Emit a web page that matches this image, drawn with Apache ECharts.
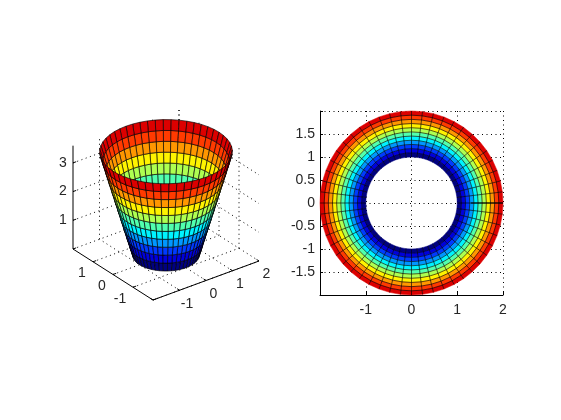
<!DOCTYPE html>
<html>
<head>
<meta charset="utf-8">
<style>html,body{margin:0;padding:0;background:#fff}#c{width:561px;height:420px}</style>
<script src="https://cdn.jsdelivr.net/npm/echarts@6/dist/echarts.min.js"></script>
</head>
<body>
<div id="c"></div>
<script>
// ---- values ----
const ringRadii = [1, 1.091, 1.182, 1.273, 1.364, 1.455, 1.545, 1.636, 1.727, 1.818, 1.909, 2];
const ringHeights = [0, 0.327, 0.655, 0.982, 1.309, 1.636, 1.964, 2.291, 2.618, 2.945, 3.273, 3.6];
const thetaDegrees = [
  0, 6.92, 13.85, 20.77, 27.69, 34.62, 41.54, 48.46, 55.38, 62.31, 69.23, 76.15, 83.08,
  90, 96.92, 103.85, 110.77, 117.69, 124.62, 131.54, 138.46, 145.38, 152.31, 159.23, 166.15, 173.08,
  180, 186.92, 193.85, 200.77, 207.69, 214.62, 221.54, 228.46, 235.38, 242.31, 249.23, 256.15, 263.08,
  270, 276.92, 283.85, 290.77, 297.69, 304.62, 311.54, 318.46, 325.38, 332.31, 339.23, 346.15, 353.08, 360
];
const seamX = [1.3, 2];
const seamY = [0, 0];
const xTicks3d = [-2, -1, 0, 1, 2];
const yTicks3d = [-2, -1, 0, 1, 2];
const zTicks3d = [1, 2, 3];
const xLabels3d = [-1, 0, 1, 2];
const yLabels3d = [-1, 0, 1];
const zLabels3d = [1, 2, 3];

// ---- oblique view used by the left panel (view units per data unit) ----
const proj = (x, y, z) => [26.5 * x - 20 * y, 9.75 * x + 12.75 * y + 28.7 * z];
const nearness = (x, y, z) => -0.527 * x - 0.687 * y + 0.5 * z;
const zTop = ringHeights[ringHeights.length - 1];

function jet(t) {
  const c = v => Math.round(255 * Math.max(0, Math.min(1, v)));
  const r = 1.5 - Math.abs(4 * t - 3), g = 1.5 - Math.abs(4 * t - 2), b = 1.5 - Math.abs(4 * t - 1);
  return 'rgb(' + c(r) + ',' + c(g) + ',' + c(b) + ')';
}

const cells = [];
for (let i = 0; i < ringRadii.length - 1; i++) {
  for (let j = 0; j < thetaDegrees.length - 1; j++) {
    const a = thetaDegrees[j] * Math.PI / 180, b = thetaDegrees[j + 1] * Math.PI / 180;
    const r0 = ringRadii[i], r1 = ringRadii[i + 1], z0 = ringHeights[i], z1 = ringHeights[i + 1];
    const v = [
      [r0 * Math.cos(a), r0 * Math.sin(a), z0],
      [r0 * Math.cos(b), r0 * Math.sin(b), z0],
      [r1 * Math.cos(b), r1 * Math.sin(b), z1],
      [r1 * Math.cos(a), r1 * Math.sin(a), z1]
    ];
    const mid = [0, 1, 2].map(k => (v[0][k] + v[1][k] + v[2][k] + v[3][k]) / 4);
    cells.push({ v, mid, ring: i, color: jet(z0 / zTop), depth: nearness(mid[0], mid[1], mid[2]) });
  }
}
const cells3d = cells.slice().sort((p, q) => p.depth - q.depth);

// dotted wall and floor lines
const gridSegs = [];
xTicks3d.forEach(x => {
  if (x > -2) gridSegs.push([[x, -2, 0], [x, 2, 0]]);
  if (x > -2) gridSegs.push([[x, 2, 0], [x, 2, zTop]]);
});
yTicks3d.forEach(y => {
  if (y < 2) gridSegs.push([[-2, y, 0], [2, y, 0]]);
  if (y > -2) gridSegs.push([[2, y, 0], [2, y, zTop]]);
});
gridSegs.push([[-2, 2, 0], [2, 2, 0]]);
zTicks3d.forEach(z => {
  gridSegs.push([[-2, 2, z], [2, 2, z]]);
  gridSegs.push([[2, 2, z], [2, -2, z]]);
});

// solid axes with their short tick marks
const axisSegs = [
  [[-2, 2, zTop], [-2, 2, 0]],
  [[-2, 2, 0], [-2, -2, 0]],
  [[-2, -2, 0], [2, -2, 0]]
];
xTicks3d.forEach(x => axisSegs.push([[x, -2, 0], [x, -1.88, 0]]));
yTicks3d.forEach(y => axisSegs.push([[-2, y, 0], [-1.88, y, 0]]));
zTicks3d.forEach(z => axisSegs.push([[-2, 2, z], [-1.88, 2, z]]));

const labels3d = [];
xLabels3d.forEach(x => labels3d.push({ p: [x, -2, 0], t: x, dx: 7.5, dy: 13.5 }));
yLabels3d.forEach(y => labels3d.push({ p: [-2, y, 0], t: y, dx: y === -1 ? -13 : -11, dy: 11.5 }));
zLabels3d.forEach(z => labels3d.push({ p: [-2, 2, z], t: z, dx: -10, dy: 0 }));

const FONT = '14px "Liberation Sans", Arial, sans-serif';
const INK = '#262626';
const EDGE = 'rgba(0,0,0,0.8)';

function segSeries(segs, style) {
  return {
    type: 'custom', xAxisIndex: 0, yAxisIndex: 0, silent: true, clip: false, z: style.z,
    data: segs.map(s => proj(...s[0])), encode: { x: 0, y: 1 },
    renderItem(params, api) {
      const s = segs[params.dataIndex];
      const a = api.coord(proj(...s[0])), b = api.coord(proj(...s[1]));
      return { type: 'line', shape: { x1: a[0], y1: a[1], x2: b[0], y2: b[1] },
        style: { stroke: style.stroke, lineWidth: style.lineWidth, lineDash: style.dash || null } };
    }
  };
}

const chart = echarts.init(document.getElementById('c'), null, { renderer: 'canvas' });
chart.setOption({
  animation: false,
  backgroundColor: '#fff',
  grid: [
    { left: 56, top: 100, width: 220, height: 210 },
    { left: 320, top: 111, width: 183, height: 184 }
  ],
  xAxis: [
    { gridIndex: 0, type: 'value', min: -110, max: 110, show: false },
    { gridIndex: 1, type: 'value', min: -2, max: 2, interval: 1, z: 1,
      axisLine: { show: true, onZero: false, lineStyle: { color: '#000', width: 1 } },
      axisTick: { show: true, inside: true, length: 3, lineStyle: { color: '#000' } },
      axisLabel: { color: INK, fontSize: 14, fontFamily: '"Liberation Sans", Arial, sans-serif', margin: 8,
        formatter: v => v === -2 ? '' : String(v) },
      splitLine: { show: true, lineStyle: { color: '#000', width: 1, type: [1, 3.5] } } }
  ],
  yAxis: [
    { gridIndex: 0, type: 'value', min: -55, max: 155, show: false },
    { gridIndex: 1, type: 'value', min: -2, max: 2, interval: 0.5, z: 1,
      axisLine: { show: true, onZero: false, lineStyle: { color: '#000', width: 1 } },
      axisTick: { show: true, inside: true, length: 3, lineStyle: { color: '#000' } },
      axisLabel: { color: INK, fontSize: 14, fontFamily: '"Liberation Sans", Arial, sans-serif', margin: 5,
        padding: [3, 0, 0, 0], formatter: v => Math.abs(v) === 2 ? '' : String(v) },
      splitLine: { show: true, lineStyle: { color: '#000', width: 1, type: [1, 3.5] } } }
  ],
  series: [
    segSeries(gridSegs, { stroke: '#000', lineWidth: 1, dash: [1, 3.5], z: 1 }),
    segSeries(axisSegs, { stroke: '#000', lineWidth: 1, z: 2 }),
    {
      type: 'custom', xAxisIndex: 0, yAxisIndex: 0, silent: true, clip: false, z: 3, progressive: 0,
      data: cells3d.map(c => proj(...c.mid)), encode: { x: 0, y: 1 },
      renderItem(params, api) {
        const c = cells3d[params.dataIndex];
        return { type: 'polygon', shape: { points: c.v.map(p => api.coord(proj(...p))) },
          style: { fill: c.color, stroke: EDGE, lineWidth: 0.8 } };
      }
    },
    {
      // right panel: cell fills
      type: 'custom', xAxisIndex: 1, yAxisIndex: 1, silent: true, clip: false, z: 3, progressive: 0,
      data: cells.map(c => [c.mid[0], c.mid[1]]), encode: { x: 0, y: 1 },
      renderItem(params, api) {
        const c = cells[params.dataIndex];
        return { type: 'polygon', shape: { points: c.v.map(p => api.coord([p[0], p[1]])) },
          style: { fill: c.color, stroke: c.color, lineWidth: 0.5 } };
      }
    },
    {
      // right panel: cell edges, leaving the inner and outer rims unlined
      type: 'custom', xAxisIndex: 1, yAxisIndex: 1, silent: true, clip: false, z: 4, progressive: 0,
      data: cells.map(c => [c.mid[0], c.mid[1]]), encode: { x: 0, y: 1 },
      renderItem(params, api) {
        const c = cells[params.dataIndex];
        const pts = c.v.map(p => api.coord([p[0], p[1]]));
        const points = c.ring === 0 ? [pts[0], pts[3]] : [pts[1], pts[0], pts[3]];
        return { type: 'polyline', shape: { points }, style: { fill: null, stroke: EDGE, lineWidth: 0.8 } };
      }
    },
    {
      type: 'line', xAxisIndex: 1, yAxisIndex: 1, silent: true, z: 5, symbol: 'none',
      lineStyle: { color: '#000', width: 1.2 },
      data: seamX.map((x, i) => [x, seamY[i]])
    },
    {
      type: 'custom', xAxisIndex: 0, yAxisIndex: 0, silent: true, clip: false, z: 5,
      data: labels3d.map(l => proj(...l.p)), encode: { x: 0, y: 1 },
      renderItem(params, api) {
        const l = labels3d[params.dataIndex];
        const a = api.coord(proj(...l.p));
        return { type: 'text', style: { text: String(l.t), x: a[0] + l.dx, y: a[1] + l.dy,
          fill: INK, font: FONT, align: 'center', verticalAlign: 'middle' } };
      }
    }
  ]
});
</script>
</body>
</html>
